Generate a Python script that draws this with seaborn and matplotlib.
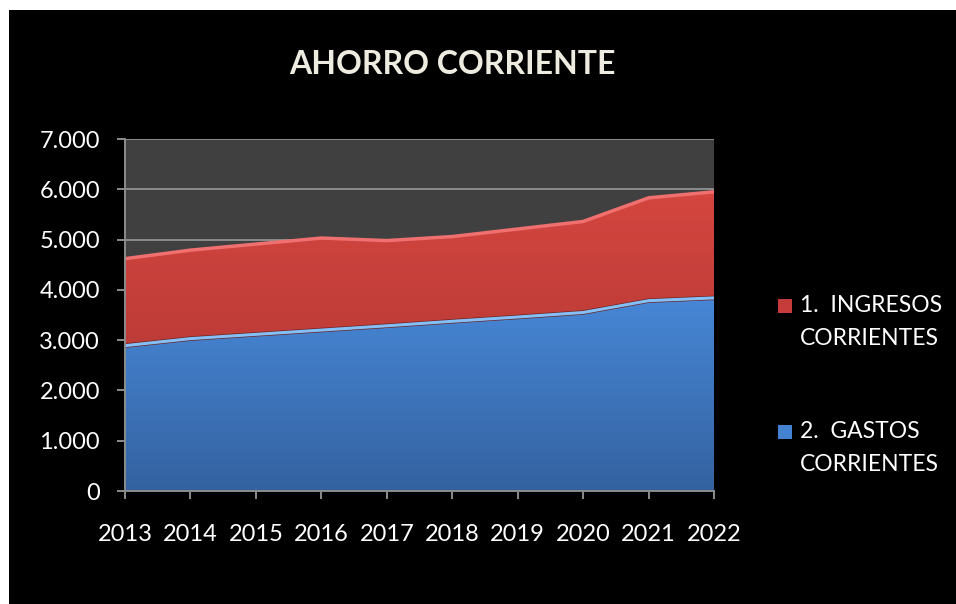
import matplotlib
matplotlib.use("Agg")
import matplotlib.pyplot as plt
import seaborn as sns
import numpy as np
import pandas as pd
from matplotlib.patches import Rectangle
from matplotlib.ticker import FuncFormatter

years = [2013, 2014, 2015, 2016, 2017, 2018, 2019, 2020, 2021, 2022]
ingresos = [4620, 4790, 4910, 5030, 4980, 5060, 5210, 5360, 5830, 5950]
gastos = [2890, 3030, 3115, 3200, 3285, 3375, 3460, 3550, 3785, 3840]
labels = ["1.  INGRESOS\nCORRIENTES", "2.  GASTOS\nCORRIENTES"]
title = "AHORRO CORRIENTE"
yticks = [0, 1000, 2000, 3000, 4000, 5000, 6000, 7000]

df = pd.DataFrame({"year": years, "ingresos": ingresos, "gastos": gastos})

sns.set_style("dark")
plt.rcParams["font.family"] = ["Lato", "DejaVu Sans"]

W, H = 956, 604
fig = plt.figure(figsize=(W / 100, H / 100), dpi=100)
fig.patch.set_facecolor("white")
# black chart area (white margin at top/left)
fig.patches.append(Rectangle((9 / W, 0), 1, 1 - 10 / H, transform=fig.transFigure,
                             facecolor="black", edgecolor="none", zorder=-10))

ax = fig.add_axes([125 / W, 1 - 491 / H, (714 - 125) / W, (491 - 139) / H])
ax.set_facecolor("#404040")
ax.set_xlim(2013, 2022)
ax.set_ylim(0, 7000)
ax.set_yticks(yticks)
ax.set_xticks(years)
ax.grid(axis="y", color="#8c8c8c", linewidth=1.4, zorder=0)
ax.grid(axis="x", visible=False)


def gradient_fill(x, ytop, ybot, c_top, c_bot, z):
    poly = ax.fill_between(x, ybot, ytop, facecolor="none", edgecolor="none", zorder=z)
    grad = np.linspace(0, 1, 256).reshape(-1, 1)
    c1 = np.array(matplotlib.colors.to_rgb(c_top))
    c2 = np.array(matplotlib.colors.to_rgb(c_bot))
    img = c1 * (1 - grad[..., None]) + c2 * grad[..., None]
    img = img.reshape(256, 1, 3)
    ymax = max(ytop)
    ymin = min(ybot)
    im = ax.imshow(img, extent=[x[0], x[-1], ymin, ymax], aspect="auto",
                   origin="upper", zorder=z)
    path = poly.get_paths()[0]
    im.set_clip_path(path, transform=ax.transData)
    return im


gradient_fill(years, ingresos, [0] * len(years), "#D4463F", "#A83230", 2)
gradient_fill(years, gastos, [0] * len(years), "#4787D6", "#3462A0", 3)

sns.lineplot(data=df, x="year", y="ingresos", ax=ax, color="#F07070", linewidth=2.5, zorder=4)
sns.lineplot(data=df, x="year", y="gastos", ax=ax, color="#6E2220", linewidth=3.2, zorder=3.5)
sns.lineplot(data=df, x="year", y="gastos", ax=ax, color="#84C0F8", linewidth=2.2, zorder=5)
ax.set_xlabel("")
ax.set_ylabel("")

for s in ["top", "right"]:
    ax.spines[s].set_visible(False)
for s in ["left", "bottom"]:
    ax.spines[s].set_visible(True)
    ax.spines[s].set_color("#8c8c8c")
    ax.spines[s].set_linewidth(1.4)
    ax.spines[s].set_zorder(6)

ax.yaxis.set_major_formatter(FuncFormatter(lambda v, p: f"{int(v):,}".replace(",", ".")))
ax.tick_params(axis="both", which="major", colors="white", labelsize=17,
               length=6, width=1.4, direction="out", left=True, bottom=True)
ax.tick_params(axis="y", pad=12, color="#8c8c8c")
ax.tick_params(axis="x", pad=18, color="#8c8c8c")

fig.text(452 / W, 1 - 64 / H, title, ha="center", va="center", color="#EEECE1",
         fontsize=23, fontweight="bold")

# legend
leg = [("#C63C3A", labels[0], 306), ("#4282D0", labels[1], 432)]
for col, lab, yc in leg:
    fig.patches.append(Rectangle((778 / W, 1 - (yc + 7) / H), 14 / W, 14 / H,
                                 transform=fig.transFigure, facecolor=col,
                                 edgecolor="none", zorder=5))
    fig.text(800 / W, 1 - (yc - 11) / H, lab, ha="left", va="top", color="white",
             fontsize=16.5, linespacing=1.72)

fig.savefig("out.png", dpi=100, facecolor=fig.get_facecolor())
